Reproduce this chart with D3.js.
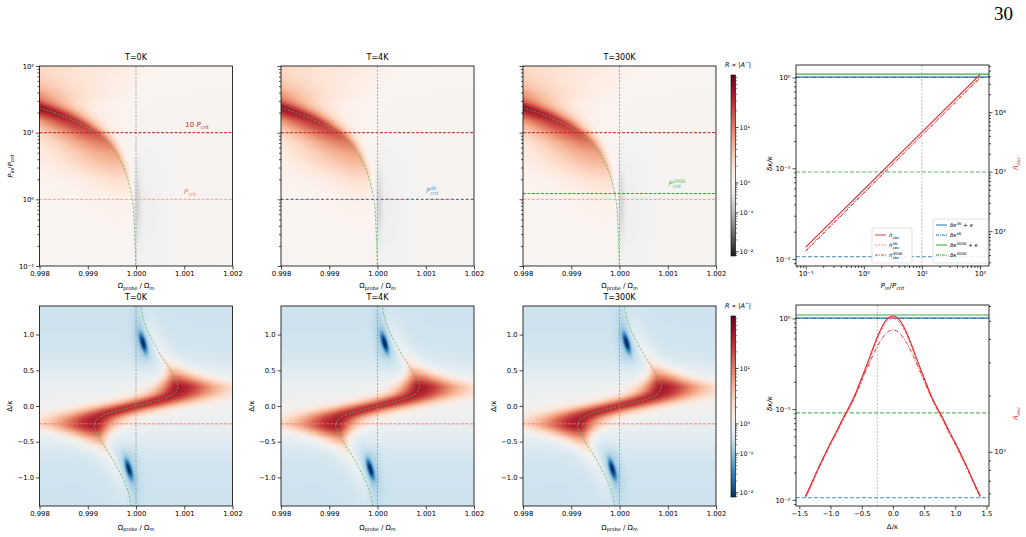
<!DOCTYPE html>
<html>
<head>
<meta charset="utf-8">
<script src="https://cdnjs.cloudflare.com/ajax/libs/d3/7.8.5/d3.min.js"></script>
<style>
  body { margin: 0; background: #fff; }
  text { font-family: "DejaVu Sans", sans-serif; }
  text.page { font-family: "Liberation Serif", "DejaVu Serif", serif; }
</style>
</head>
<body>
<svg width="1026" height="537"></svg>
<script>
// ---------- data ----------
var titles = ["T=0K", "T=4K", "T=300K"];
var omegaTicks = [0.998, 0.999, 1.000, 1.001, 1.002];
var pTicks = [0.1, 1, 10, 100];
var detTicks = [-1.0, -0.5, 0.0, 0.5, 1.0];

// top maps: resonance ridge vs P_in/P_crit  (offset = (Omega/Omega_m - 1) * 1e3)
var ridgeP   = [0.1, 0.3, 1, 2, 3, 5, 7, 10, 15, 20, 25, 40, 60, 100];
var ridgeOff = [-0.005, -0.025, -0.075, -0.17, -0.255, -0.425, -0.595, -0.846, -1.275, -1.70, -2.125, -3.4, -5.1, -8.5];
var ridgeAmp = [0.03, 0.1, 0.4, 1.2, 2.5, 5, 9, 17, 28, 40, 52, 90, 140, 260];
var ridgeWL  = [0.3, 0.6, 1.2, 1.3, 1.3, 1.1, 0.9, 0.75, 0.65, 0.6, 0.6, 0.6, 0.6, 0.6];
var ridgeWR  = [0.03, 0.04, 0.06, 0.08, 0.1, 0.12, 0.15, 0.18, 0.25, 0.33, 0.42, 0.8, 1.17, 1.83];

// bottom maps: S-shaped ridge vs Delta/kappa
var sDet = [-1.4, -1.2, -1.0, -0.85, -0.7, -0.56, -0.45, -0.37, -0.27, -0.2, -0.15, -0.1, -0.05, 0, 0.05, 0.1, 0.15, 0.2, 0.27, 0.37, 0.45, 0.56, 0.7, 0.85, 1.0, 1.2, 1.4];
var sOff = [-0.10, -0.16, -0.28, -0.40, -0.52, -0.66, -0.76, -0.82, -0.87, -0.83, -0.74, -0.55, -0.3, 0, 0.3, 0.55, 0.74, 0.83, 0.87, 0.82, 0.76, 0.66, 0.52, 0.40, 0.28, 0.16, 0.10];
var sAmp = [0.15, 0.2, 0.3, 0.4, 0.7, 1.5, 5, 14, 40, 38, 34, 32, 30, 30, 30, 32, 34, 38, 40, 14, 5, 1.5, 0.7, 0.4, 0.3, 0.2, 0.15];
var sWL  = [0.3, 0.3, 0.3, 0.3, 0.3, 0.38, 0.45, 0.5, 0.54, 0.55, 0.54, 0.53, 0.52, 0.5, 0.46, 0.42, 0.36, 0.3, 0.25, 0.2, 0.15, 0.1, 0.08, 0.08, 0.08, 0.08, 0.08];
var sWR  = [0.08, 0.08, 0.08, 0.08, 0.08, 0.1, 0.15, 0.2, 0.25, 0.3, 0.36, 0.42, 0.46, 0.5, 0.52, 0.53, 0.54, 0.55, 0.54, 0.5, 0.45, 0.38, 0.3, 0.3, 0.3, 0.3, 0.3];

// colour bar (log10 R -> position along bar)
var cbLog = [-2.11, -2, -1, 0, 1, 1.95];
var cbPos = [0, 0.024, 0.239, 0.404, 0.71, 1];
var cbTicks = [-2, -1, 0, 1];

// critical powers / detuning markers
var pCrit = 1, p10Crit = 10, pCrit300K = 1.22, detMark = -0.25;

// right column: linewidths and cavity photon numbers
var dk4K = 0.0106, dk300K = 0.091;
var pIn = [0.1, 1, 10, 100];
var nP0 = [54, 500, 4630, 42900];
var nP4K = [48, 450, 4180, 38800];
var nP300K = [46, 435, 4050, 37500];
var detGrid = [-1.4, -1.3, -1.2, -1.1, -1.0, -0.9, -0.8, -0.7, -0.6, -0.5, -0.4, -0.3, -0.2, -0.1, 0, 0.1, 0.2, 0.3, 0.4, 0.5, 0.6, 0.7, 0.8, 0.9, 1.0, 1.1, 1.2, 1.3, 1.4];
var nD0 = [581, 684, 813, 955, 1117, 1290, 1510, 1740, 2040, 2480, 3020, 3715, 4470, 5070, 5310, 5070, 4470, 3715, 3020, 2480, 2040, 1740, 1510, 1290, 1117, 955, 813, 684, 581];
var nD4K = [565, 665, 790, 925, 1085, 1250, 1465, 1690, 1980, 2400, 2930, 3600, 4340, 4920, 5150, 4920, 4340, 3600, 2930, 2400, 1980, 1690, 1465, 1250, 1085, 925, 790, 665, 565];
var nD300K = [575, 677, 805, 945, 1105, 1275, 1490, 1720, 2010, 2400, 2850, 3380, 3900, 4320, 4470, 4320, 3900, 3380, 2850, 2400, 2010, 1720, 1490, 1275, 1105, 945, 805, 677, 575];

// ---------- layout ----------
var svg = d3.select("svg");
var HX = [39.5, 281, 523], HW = 193, HH = 200, TY = 66, BY = 306;
var CBX = 731, CBW = 4.5, CBT = [75, 316], CBH = 181;
var RX = 796, RW = 193, RT = [65, 305], RH = 201;
var FS = 6.8;

var RED = "#e3262a", PINK = "#f08a8a", BLUE = "#1f77b4", GREEN = "#2ca02c";

var xHeat = d3.scaleLinear().domain([0.998, 1.002]).range([0, HW]);
var yP = d3.scaleLog().domain([0.1, 100]).range([HH, 0]);
var yDet = d3.scaleLinear().domain([-1.4, 1.4]).range([HH, 0]);

// ---------- helpers ----------
var supMap = {"-": "\u207B", "0": "\u2070", "1": "\u00B9", "2": "\u00B2", "3": "\u00B3", "4": "\u2074"};
function pow10(v) {
    var e = Math.round(Math.log10(v));
    return "10" + String(e).split("").map(function(c) { return supMap[c]; }).join("");
}
function logMinors(lo, hi) {
    var out = [];
    for (var d = Math.floor(Math.log10(lo)) - 1; d <= Math.ceil(Math.log10(hi)); d++)
        for (var k = 2; k <= 9; k++) {
            var v = k * Math.pow(10, d);
            if (v >= lo && v <= hi) out.push(v);
        }
    return out;
}
function smooth(x) { x = Math.max(0, Math.min(1, x)); return x * x * (3 - 2 * x); }

function rich(t, segs, fs) {
    var base = 0, prevLen = 0;
    segs.forEach(function(s) {
        var txt = s[0], st = s[1] || "", off = 0, sz = fs;
        if (st.indexOf("b") >= 0) { off = fs * 0.28; sz = fs * 0.7; }
        if (st.indexOf("p") >= 0) { off = -fs * 0.4; sz = fs * 0.7; }
        var ts = t.append("tspan").text(txt).attr("dy", off - base).attr("font-size", sz);
        if (st.indexOf("i") >= 0) ts.attr("font-style", "italic");
        if (st.indexOf("k") >= 0) ts.attr("dx", -prevLen);
        base = off;
        prevLen = ts.node().getComputedTextLength();
    });
    return t;
}
function label(g, x, y, segs, fs, opts) {
    opts = opts || {};
    var t = g.append("text").attr("x", x).attr("y", y)
        .attr("text-anchor", opts.anchor || "middle")
        .attr("font-size", fs).attr("fill", opts.fill || "#000");
    if (opts.rotate) t.attr("transform", "rotate(-90," + x + "," + y + ")");
    return rich(t, segs, fs);
}
function axis(g, ax, vals, fmt, size, tx, ty) {
    var a = g.append("g").attr("transform", "translate(" + tx + "," + ty + ")")
        .call(ax.tickValues(vals).tickFormat(fmt).tickSize(size).tickSizeOuter(0).tickPadding(2));
    a.select(".domain").remove();
    a.attr("font-size", FS);
    a.selectAll("line").attr("stroke", "#000").attr("stroke-width", 0.7);
    return a;
}

// colour mapping
var tOfLog = d3.scaleLinear().domain(cbLog).range(cbPos).clamp(true);
function uOfT(t) { return t < 0.404 ? 0.5 * t / 0.404 : 0.5 + 0.5 * (t - 0.404) / 0.596; }
var cmapTop = function(u) { return d3.interpolateRdGy(1 - u); };
var cmapBot = function(u) { return d3.interpolateRdBu(1 - u); };

function fieldImage(fn, cmap) {
    var lut = d3.range(1024).map(function(i) { return d3.rgb(cmap(i / 1023)); });
    var cv = document.createElement("canvas");
    cv.width = HW; cv.height = HH;
    var ctx = cv.getContext("2d"), img = ctx.createImageData(HW, HH);
    for (var j = 0; j < HH; j++) for (var i = 0; i < HW; i++) {
        var lg = fn(i + 0.5, j + 0.5);
        var c = lut[Math.round(uOfT(tOfLog(lg)) * 1023)];
        var k = (j * HW + i) * 4;
        img.data[k] = c.r; img.data[k + 1] = c.g; img.data[k + 2] = c.b; img.data[k + 3] = 255;
    }
    ctx.putImageData(img, 0, 0);
    return cv.toDataURL();
}

// ridge parameter lookups
var lp = ridgeP.map(Math.log10);
var rOff = d3.scaleLinear().domain(lp).range(ridgeOff).clamp(true);
var rAmp = d3.scaleLinear().domain(lp).range(ridgeAmp).clamp(true);
var rWL = d3.scaleLinear().domain(lp).range(ridgeWL).clamp(true);
var rWR = d3.scaleLinear().domain(lp).range(ridgeWR).clamp(true);
var sOffS = d3.scaleLinear().domain(sDet).range(sOff).clamp(true);
var sAmpS = d3.scaleLinear().domain(sDet).range(sAmp).clamp(true);
var sWLS = d3.scaleLinear().domain(sDet).range(sWL).clamp(true);
var sWRS = d3.scaleLinear().domain(sDet).range(sWR).clamp(true);

var topImg = fieldImage(function(i, j) {
    var o = (xHeat.invert(i) - 1) * 1000, l = Math.log10(yP.invert(j));
    var d = o - rOff(l), w = d < 0 ? rWL(l) : rWR(l);
    var q = 1 + (d / w) * (d / w);
    var bg = 1 - 0.22 * smooth((o + 0.25) / 0.3);
    var g = Math.log10(bg + rAmp(l) / (q * q));
    g -= 0.42 * Math.exp(-Math.pow((o - 0.03) / 0.075, 2) - Math.pow((l + 0.05) / 0.55, 2));
    g -= 0.12 * Math.exp(-Math.pow((o - 0.2) / 0.35, 2) - Math.pow((l + 0.2) / 0.8, 2));
    return g;
}, cmapTop);

var botImg = fieldImage(function(i, j) {
    var o = (xHeat.invert(i) - 1) * 1000, dl = yDet.invert(j);
    var d = o - sOffS(dl), w = d < 0 ? sWLS(dl) : sWRS(dl);
    var q = 1 + (d / w) * (d / w);
    var bg = 0.33 + 0.5 * Math.exp(-Math.pow(dl / 0.5, 2));
    var g = Math.log10(bg + sAmpS(dl) / (q * q));
    [1, -1].forEach(function(s) {
        var dx = (s * o - 0.15) * 48.25, dy = (s * dl - 0.88) * 71.7;
        var al = -0.28 * dx + 0.96 * dy, ac = 0.96 * dx + 0.28 * dy;
        g -= 1.45 * Math.exp(-Math.pow(al / 10, 2) - Math.pow(ac / 2.8, 2));
        g -= 0.25 * Math.exp(-Math.pow(al / 24, 2) - Math.pow(ac / 8, 2));
        g -= 0.18 * Math.exp(-Math.pow((s * o - 0.1) / 0.15, 2)) * smooth((s * dl - 0.45) / 0.3);
    });
    return g;
}, cmapBot);

var defs = svg.append("defs");

// ---------- heat map panels ----------
function heatPanel(col, top, isTop) {
    var x0 = HX[col], y0 = top;
    var g = svg.append("g").attr("transform", "translate(" + x0 + "," + y0 + ")");
    var cid = "clip" + col + (isTop ? "t" : "b");
    defs.append("clipPath").attr("id", cid).append("rect").attr("width", HW).attr("height", HH);
    g.append("image").attr("href", isTop ? topImg : botImg).attr("width", HW).attr("height", HH)
        .attr("preserveAspectRatio", "none");
    var inner = g.append("g").attr("clip-path", "url(#" + cid + ")");
    var yS = isTop ? yP : yDet;

    // green ridge
    var pts = isTop ? ridgeP.map(function(p, i) { return [xHeat(1 + ridgeOff[i] / 1000), yP(p)]; })
                    : sDet.map(function(d, i) { return [xHeat(1 + sOff[i] / 1000), yDet(d)]; });
    inner.append("path").attr("d", isTop ? d3.line().curve(d3.curveMonotoneY)(pts.slice().reverse()) : d3.line().curve(d3.curveCatmullRom)(pts))
        .attr("fill", "none").attr("stroke", "#5cb85c").attr("stroke-width", 0.9)
        .attr("stroke-dasharray", "2.5,1.5").attr("opacity", 0.85);

    // horizontal markers
    function hline(v, color, dash, wdt) {
        inner.append("line").attr("x1", 0).attr("x2", HW).attr("y1", yS(v)).attr("y2", yS(v))
            .attr("stroke", color).attr("stroke-width", wdt || 1).attr("stroke-dasharray", dash);
    }
    if (isTop) {
        hline(p10Crit, "#c81d25", "3,1.5");
        hline(pCrit, "#f4a09a", "3,1.5");
        if (col === 1) hline(pCrit, "#2c5fa8", "2.5,2.5");
        if (col === 2) hline(pCrit300K, GREEN, "3,1.5");
    } else {
        hline(detMark, "#f07a6a", "3,1.5", 0.9);
    }
    // vertical dotted line at Omega = Omega_m
    inner.append("line").attr("x1", xHeat(1)).attr("x2", xHeat(1)).attr("y1", 0).attr("y2", HH)
        .attr("stroke", "#888").attr("stroke-width", 1).attr("stroke-dasharray", "2,1.5").attr("opacity", 0.7);

    if (isTop) {
        if (col === 0) {
            label(g, 157.5, 61, [["10 ", ""], ["P", "i"], ["crit", "b"]], 7, {fill: "#c81d25"});
            label(g, 150.5, 128, [["P", "i"], ["crit", "b"]], 7, {fill: "#f08080"});
        }
        if (col === 1) label(g, 151, 127, [["P", "i"], ["4K", "p"], ["crit", "bk"]], 7, {fill: "#5b9bd5"});
        if (col === 2) label(g, 154, 120, [["P", "i"], ["300K", "p"], ["crit", "bk"]], 7, {fill: "#5cb85c"});
    }

    // axes
    axis(g, d3.axisBottom(xHeat), omegaTicks, d3.format(".3f"), 3.5, 0, HH);
    if (isTop) {
        axis(g, d3.axisLeft(yP), pTicks, col === 0 ? pow10 : function() { return ""; }, 3.5, 0, 0);
        axis(g, d3.axisLeft(yP), logMinors(0.1, 100), function() { return ""; }, 2, 0, 0);
    } else {
        axis(g, d3.axisLeft(yDet), detTicks, d3.format(".1f"), 3.5, 0, 0);
    }
    g.append("rect").attr("width", HW).attr("height", HH).attr("fill", "none")
        .attr("stroke", "#000").attr("stroke-width", 0.8);

    // titles and labels
    g.append("text").attr("x", HW / 2).attr("y", -6.5).attr("text-anchor", "middle")
        .attr("font-size", 8).text(titles[col]);
    label(g, HW / 2, HH + (isTop ? 22 : 23.5), [["\u03A9", ""], ["probe", "b"], [" / \u03A9", ""], ["m", "b"]], 7);
    if (isTop && col === 0) label(g, -27, HH / 2, [["P", "i"], ["in", "b"], ["/", ""], ["P", "i"], ["crit", "b"]], 7, {rotate: true});
    if (!isTop) label(g, -27.5, HH / 2, [["\u0394/", ""], ["\u03BA", "i"]], 7, {rotate: true});
}
[0, 1, 2].forEach(function(c) { heatPanel(c, TY, true); heatPanel(c, BY, false); });

// ---------- colour bars ----------
function colorBar(top, cmap, id) {
    var grad = defs.append("linearGradient").attr("id", id).attr("x1", 0).attr("x2", 0).attr("y1", 1).attr("y2", 0);
    d3.range(0, 1.0001, 0.01).forEach(function(t) {
        grad.append("stop").attr("offset", t).attr("stop-color", cmap(uOfT(t)));
    });
    var g = svg.append("g").attr("transform", "translate(" + CBX + "," + top + ")");
    g.append("rect").attr("width", CBW).attr("height", CBH).attr("fill", "url(#" + id + ")")
        .attr("stroke", "#000").attr("stroke-width", 0.6);
    var yc = function(lg) { return CBH * (1 - tOfLog(lg)); };
    cbTicks.forEach(function(e) {
        g.append("line").attr("x1", CBW).attr("x2", CBW + 3).attr("y1", yc(e)).attr("y2", yc(e))
            .attr("stroke", "#000").attr("stroke-width", 0.7);
        g.append("text").attr("x", CBW + 4).attr("y", yc(e) + 2.4).attr("font-size", 6.3)
            .text(pow10(Math.pow(10, e)));
    });
    logMinors(Math.pow(10, cbLog[0]), Math.pow(10, cbLog[5])).forEach(function(v) {
        var y = yc(Math.log10(v));
        g.append("line").attr("x1", CBW).attr("x2", CBW + 1.8).attr("y1", y).attr("y2", y)
            .attr("stroke", "#000").attr("stroke-width", 0.5);
    });
    label(g, 7, -8, [["R", "i"], [" \u221D |", ""], ["A", "i"], ["\u2212", "p"], ["|", ""]], 6.5);
}
colorBar(CBT[0], cmapTop, "cbTop");
colorBar(CBT[1], cmapBot, "cbBot");

// ---------- right column ----------
function rightPanel(top, isTop) {
    var g = svg.append("g").attr("transform", "translate(" + RX + "," + top + ")");
    var cid = "rclip" + (isTop ? "t" : "b");
    defs.append("clipPath").attr("id", cid).append("rect").attr("width", RW).attr("height", RH);
    var inner = g.append("g").attr("clip-path", "url(#" + cid + ")");
    var x = isTop ? d3.scaleLog().domain([Math.pow(10, -1.167), Math.pow(10, 2.155)]).range([0, RW])
                  : d3.scaleLinear().domain([-1.553, 1.54]).range([0, RW]);
    var yl = isTop ? d3.scaleLog().domain([Math.pow(10, -2.077), Math.pow(10, 0.138)]).range([RH, 0])
                   : d3.scaleLog().domain([Math.pow(10, -2.068), Math.pow(10, 0.148)]).range([RH, 0]);
    var yr = isTop ? d3.scaleLog().domain([Math.pow(10, 1.415), Math.pow(10, 4.793)]).range([RH, 0])
                   : d3.scaleLog().domain([Math.pow(10, 2.7106), Math.pow(10, 3.7835)]).range([RH, 0]);

    // vertical marker
    var vx = isTop ? x(10) : x(detMark);
    inner.append("line").attr("x1", vx).attr("x2", vx).attr("y1", 0).attr("y2", RH)
        .attr("stroke", "#bbb").attr("stroke-width", 1).attr("stroke-dasharray", "2,1.5");

    function hline(v, color, dash, wdt, op) {
        inner.append("line").attr("x1", 0).attr("x2", RW).attr("y1", yl(v)).attr("y2", yl(v))
            .attr("stroke", color).attr("stroke-width", wdt).attr("stroke-dasharray", dash)
            .attr("opacity", op);
    }
    hline(1 + dk300K, GREEN, null, 1.2, 0.9);
    hline(1 + dk4K, BLUE, null, 1.5, 0.8);
    hline(1, "#2c3e50", "4,1.5,1,1.5", 0.8, 0.7);
    hline(dk300K, GREEN, "4,2", 1.2, 0.75);
    hline(dk4K, BLUE, "4,2", 1.2, 0.65);

    // photon number curves (right axis)
    var xs = isTop ? pIn : detGrid;
    var series = isTop ? [nP4K, nP300K, nP0] : [nD4K, nD300K, nD0];
    var styles = [[PINK, "3,1.5", 1], [RED, "4,1.5,1,1.5", 0.9], [RED, null, 1.1]];
    var ln = d3.line().x(function(d, i) { return x(xs[i]); }).y(function(d) { return yr(d); })
        .curve(isTop ? d3.curveLinear : d3.curveMonotoneX);
    series.forEach(function(s, k) {
        inner.append("path").attr("d", ln(s)).attr("fill", "none")
            .attr("stroke", styles[k][0]).attr("stroke-dasharray", styles[k][1])
            .attr("stroke-width", styles[k][2]);
    });

    // axes
    if (isTop) {
        axis(g, d3.axisBottom(x), pTicks, pow10, 3.5, 0, RH);
        axis(g, d3.axisBottom(x), logMinors(0.07, 140), function() { return ""; }, 2, 0, RH);
    } else {
        axis(g, d3.axisBottom(x), [-1.5, -1.0, -0.5, 0.0, 0.5, 1.0, 1.5], d3.format(".1f"), 3.5, 0, RH);
    }
    axis(g, d3.axisLeft(yl), [0.01, 0.1, 1], pow10, 3.5, 0, 0);
    axis(g, d3.axisLeft(yl), logMinors(0.0085, 1.37), function() { return ""; }, 2, 0, 0);
    if (isTop) {
        axis(g, d3.axisRight(yr), [100, 1000, 10000], pow10, 3.5, RW, 0);
        axis(g, d3.axisRight(yr), logMinors(26, 62000), function() { return ""; }, 2, RW, 0);
    } else {
        axis(g, d3.axisRight(yr), [1000], pow10, 3.5, RW, 0);
        axis(g, d3.axisRight(yr), logMinors(514, 6070), function() { return ""; }, 2, RW, 0);
    }
    g.append("rect").attr("width", RW).attr("height", RH).attr("fill", "none")
        .attr("stroke", "#000").attr("stroke-width", 0.8);

    // axis labels
    label(g, -24, RH / 2 - 2, [["\u03B4\u03BA/\u03BA", "i"]], 7, {rotate: true});
    label(g, RW + 29, RH / 2 + (isTop ? -2 : 8), [["n\u0304", "i"], ["cav", "b"]], 7, {rotate: true, fill: RED});
    if (isTop) label(g, RW / 2, RH + 22, [["P", "i"], ["in", "b"], ["/", ""], ["P", "i"], ["crit", "b"]], 7);
    else label(g, RW / 2, RH + 22.5, [["\u0394/", ""], ["\u03BA", "i"]], 7);

    if (isTop) {
        // legend: photon numbers
        var l1 = g.append("g").attr("transform", "translate(76,163)");
        l1.append("rect").attr("width", 40).attr("height", 35).attr("rx", 1.5).attr("fill", "#fff")
            .attr("fill-opacity", 0.85).attr("stroke", "#ccc").attr("stroke-width", 0.6);
        var leg1 = [[RED, null, [["n\u0304", "i"], ["cav", "b"]]],
                    [PINK, "2,1", [["n\u0304", "i"], ["4K", "p"], ["cav", "bk"]]],
                    [RED, "3,1,1,1", [["n\u0304", "i"], ["300K", "p"], ["cav", "bk"]]]];
        leg1.forEach(function(e, i) {
            var yy = 7 + i * 10;
            l1.append("line").attr("x1", 3).attr("x2", 14).attr("y1", yy).attr("y2", yy)
                .attr("stroke", e[0]).attr("stroke-dasharray", e[1]).attr("stroke-width", 0.9);
            label(l1, 17, yy + 2, e[2], 5.5, {anchor: "start"});
        });
        // legend: linewidths
        var l2 = g.append("g").attr("transform", "translate(137,154)");
        l2.append("rect").attr("width", 55).attr("height", 44).attr("rx", 1.5).attr("fill", "#fff")
            .attr("fill-opacity", 0.85).attr("stroke", "#ccc").attr("stroke-width", 0.6);
        var leg2 = [[BLUE, null, [["\u03B4\u03BA", "i"], ["4K", "p"], [" + ", ""], ["\u03BA", "i"]]],
                    [BLUE, "3,1,1,1", [["\u03B4\u03BA", "i"], ["4K", "p"]]],
                    [GREEN, null, [["\u03B4\u03BA", "i"], ["300K", "p"], [" + ", ""], ["\u03BA", "i"]]],
                    [GREEN, "3,1,1,1", [["\u03B4\u03BA", "i"], ["300K", "p"]]]];
        leg2.forEach(function(e, i) {
            var yy = 6 + i * 10;
            l2.append("line").attr("x1", 3).attr("x2", 14).attr("y1", yy).attr("y2", yy)
                .attr("stroke", e[0]).attr("stroke-dasharray", e[1]).attr("stroke-width", 1);
            label(l2, 17, yy + 2, e[2], 5.5, {anchor: "start"});
        });
    }
}
rightPanel(RT[0], true);
rightPanel(RT[1], false);

// page number
svg.append("text").attr("class", "page").attr("x", 1013).attr("y", 20).attr("text-anchor", "end")
    .attr("font-size", 19).text("30");
</script>
</body>
</html>
